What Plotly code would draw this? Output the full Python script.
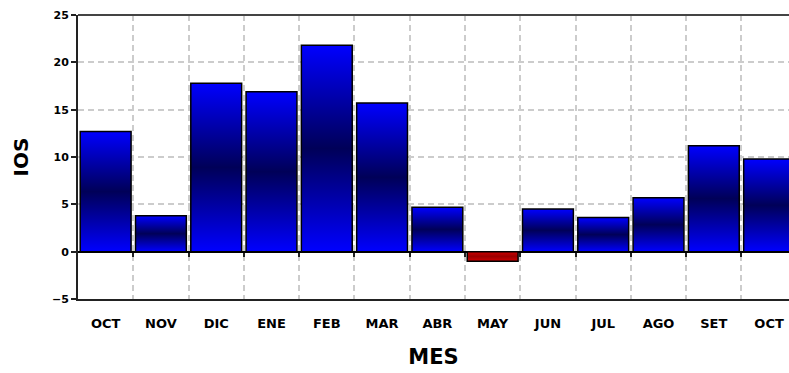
import plotly.graph_objects as go

months = ["OCT", "NOV", "DIC", "ENE", "FEB", "MAR", "ABR", "MAY", "JUN", "JUL", "AGO", "SET", "OCT"]
ios = [12.7, 3.8, 17.8, 16.9, 21.8, 15.7, 4.7, -1.0, 4.5, 3.6, 5.7, 11.2, 9.8]
y_ticks = [-5, 0, 5, 10, 15, 20, 25]

FONT = "DejaVu Sans"
half = 0.46
blue_scale = [[0, "#0000ff"], [0.5, "#000058"], [1, "#0000ff"]]
red_scale = [[0, "#d00000"], [0.5, "#9a0000"], [1, "#d00000"]]

idx = list(range(len(months)))
bounds = [i + 0.5 for i in idx[:-1]]

fig = go.Figure()
for i, v in zip(idx, ios):
    fig.add_trace(go.Scatter(
        x=[i - half, i + half, i + half, i - half, i - half],
        y=[0, 0, v, v, 0],
        mode="lines",
        fill="toself",
        fillgradient=dict(type="vertical", colorscale=blue_scale if v >= 0 else red_scale),
        line=dict(color="black", width=1.5),
        hoverinfo="skip",
        showlegend=False,
    ))

# invisible trace so the overlay axis renders
fig.add_trace(go.Scatter(x=[None], y=[None], xaxis="x2", yaxis="y", showlegend=False))

fig.update_layout(
    width=789, height=373,
    margin=dict(l=78, r=0, t=15, b=74),
    plot_bgcolor="white", paper_bgcolor="white",
    font=dict(family=FONT, color="black"),
    xaxis=dict(
        range=[-0.5, 12.36],
        tickmode="array", tickvals=idx, ticktext=months,
        tickfont=dict(family=FONT, size=13, color="black", weight="bold"),
        ticks="", ticklabelstandoff=11,
        showgrid=False, zeroline=False,
        showline=True, linecolor="#222222", linewidth=2,
        minor=dict(tickmode="array", tickvals=bounds, showgrid=True,
                   gridcolor="#cccccc", griddash="6px,4px", gridwidth=2, ticks=""),
        title=dict(text="<b>MES</b>", font=dict(family=FONT, size=21, color="black"), standoff=20),
    ),
    xaxis2=dict(
        overlaying="x", anchor="free", position=(0 - y_ticks[0]) / (y_ticks[-1] - y_ticks[0]),
        range=[-0.5, 12.36], tickmode="array", tickvals=bounds,
        ticks="outside", ticklen=4, tickwidth=1.5, tickcolor="#222222",
        showticklabels=False, showgrid=False, zeroline=False, showline=False,
    ),
    yaxis=dict(
        range=[y_ticks[0], y_ticks[-1]],
        tickmode="array", tickvals=y_ticks,
        tickfont=dict(family=FONT, size=11, color="black", weight="bold"),
        ticks="outside", ticklen=5, tickwidth=1.5, tickcolor="#222222",
        showline=True, linecolor="#222222", linewidth=2,
        showgrid=True, gridcolor="#cccccc", griddash="6px,4px", gridwidth=2,
        zeroline=True, zerolinecolor="black", zerolinewidth=1.5,
        title=dict(text="<b>IOS</b>", font=dict(family=FONT, size=20, color="black"), standoff=18),
    ),
    shapes=[dict(type="line", xref="paper", yref="paper", x0=0, x1=1, y0=1, y1=1,
                 line=dict(color="#444444", width=2))],
)

fig.write_html("out.html")
